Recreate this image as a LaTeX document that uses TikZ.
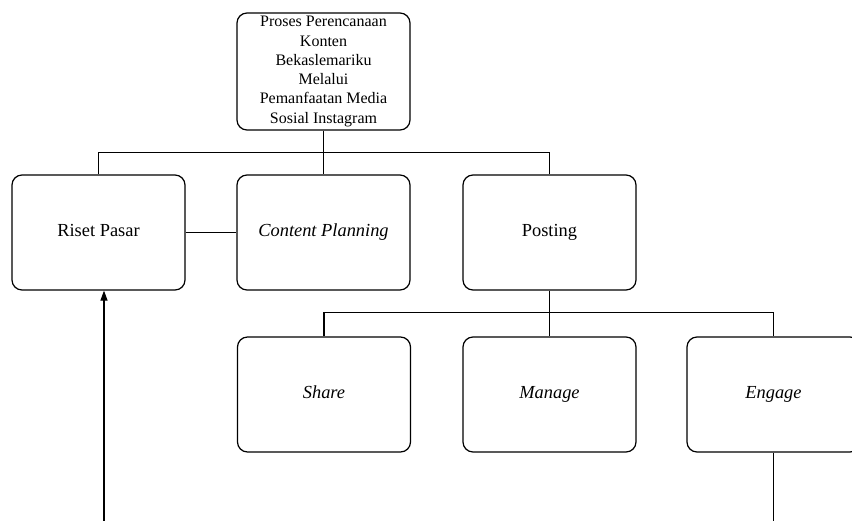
\documentclass[tikz,border=0pt]{standalone}
\usepackage{fontspec}
\setmainfont{Liberation Serif}
\usetikzlibrary{arrows.meta}
\begin{document}
\begin{tikzpicture}[x=1pt,y=-1pt,
  box/.style={draw,line width=1.2pt,rounded corners=10pt,minimum width=173pt,minimum height=115pt,inner sep=0pt,align=center,font=\fontsize{18.4}{22}\selectfont},
  leaf/.style={box,text height=0.84em,text depth=0pt},
  conn/.style={line width=1.2pt}]
\useasboundingbox (0,0) rectangle (852,520);
\node[box,minimum height=117pt,font=\fontsize{16}{19.3}\selectfont] (top) at (323.5,71.5) {Proses Perencanaan\\Konten\\Bekaslemariku\\Melalui\\Pemanfaatan Media\\Sosial Instagram};
\node[leaf] (riset) at (98.5,232.5) {Riset Pasar};
\node[leaf] (content) at (323.5,232.5) {\itshape Content Planning};
\node[leaf] (posting) at (549.5,232.5) {Posting};
\node[leaf] (share) at (324,394.5) {\itshape Share};
\node[leaf] (manage) at (549.5,394.5) {\itshape Manage};
\node[leaf] (engage) at (773.5,394.5) {\itshape Engage};
\coordinate (j1) at (323.5,152.5);
\coordinate (j2) at (549.5,312.5);
\coordinate (a1) at (104,530);
\coordinate (e1) at (773.5,530);
\draw[conn] (top.south) -- (content.north);
\draw[conn] (riset.north) -- (riset.north |- j1) -- (posting.north |- j1) -- (posting.north);
\draw[conn] (riset.east) -- (content.west);
\draw[conn] (posting.south) -- (manage.north);
\draw[conn] (share.north) -- (share.north |- j2) -- (engage.north |- j2) -- (engage.north);
\draw[conn] (engage.south) -- (e1);
\draw[conn,-{Triangle[length=10pt,width=7pt]}] (a1) -- (a1 |- riset.south);
\end{tikzpicture}
\end{document}
